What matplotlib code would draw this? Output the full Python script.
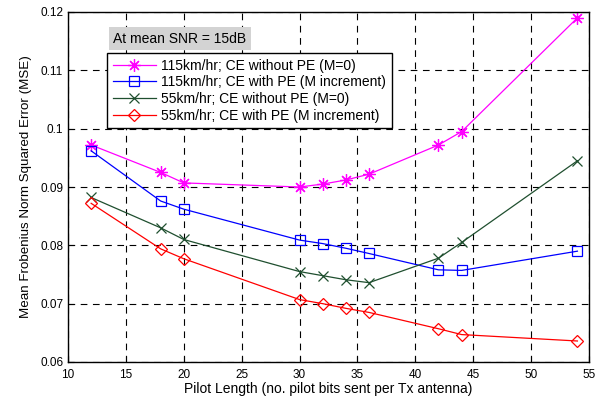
import numpy as np
import matplotlib.pyplot as plt

plt.rcParams['font.family'] = ['Liberation Sans', 'DejaVu Sans']

pilot = [12, 18, 20, 30, 32, 34, 36, 42, 44, 54]
mse_115_nope = [0.0972, 0.0925, 0.0907, 0.0900, 0.0905, 0.0912, 0.0922, 0.0972, 0.0995, 0.1190]
mse_115_pe = [0.0962, 0.0876, 0.0862, 0.0809, 0.0803, 0.0795, 0.0786, 0.0758, 0.0757, 0.0790]
mse_55_nope = [0.0882, 0.0830, 0.0810, 0.0755, 0.0748, 0.0741, 0.0736, 0.0778, 0.0805, 0.0945]
mse_55_pe = [0.0872, 0.0794, 0.0777, 0.0707, 0.0700, 0.0692, 0.0685, 0.0657, 0.0647, 0.0636]
labels = ['115km/hr; CE without PE (M=0)',
          '115km/hr; CE with PE (M increment)',
          '55km/hr; CE without PE (M=0)',
          '55km/hr; CE with PE (M increment)']

fig = plt.figure(figsize=(6.05, 3.98), dpi=100)
ax = fig.add_axes([68/605, 1-362/398, 521/605, 350/398])

lw = 0.9
ax.plot(pilot, mse_115_nope, color='#ff00ff', marker=(8, 2, 0), ms=9, mew=0.9, lw=lw, label=labels[0])
ax.plot(pilot, mse_115_pe, color='#0000ff', marker='s', ms=7, mfc='none', mew=0.9, lw=lw, label=labels[1])
ax.plot(pilot, mse_55_nope, color='#1f4f2f', marker='x', ms=7, mew=0.9, lw=lw, label=labels[2])
ax.plot(pilot, mse_55_pe, color='#ff0000', marker='D', ms=6, mfc='none', mew=0.9, lw=lw, label=labels[3])

ax.set_xlim(10, 55)
ax.set_ylim(0.06, 0.12)
ax.set_xticks(np.arange(10, 56, 5))
ax.set_yticks([0.06, 0.07, 0.08, 0.09, 0.1, 0.11, 0.12])
ax.set_yticklabels(['0.06', '0.07', '0.08', '0.09', '0.1', '0.11', '0.12'])
ax.grid(True, color='black', linestyle=(0, (6, 5)), linewidth=0.8)
ax.tick_params(direction='in', labelsize=8.5, length=4)
ax.tick_params(axis='x', pad=5)
for s in ax.spines.values():
    s.set_linewidth(1.0)

ax.set_xlabel('Pilot Length (no. pilot bits sent per Tx antenna)', fontsize=10, labelpad=1)
ax.set_ylabel('Mean Frobenius Norm Squared Error (MSE)', fontsize=9.6, labelpad=6)

leg = ax.legend(loc='upper left', bbox_to_anchor=(39/521, 1-41/350), fontsize=10,
                fancybox=False, edgecolor='black', framealpha=1, borderpad=0.4,
                labelspacing=0.2, handlelength=3.1, handletextpad=0.4, borderaxespad=0)
leg.get_frame().set_linewidth(1.0)

ax.text(0.087, 0.924, 'At mean SNR = 15dB', transform=ax.transAxes, fontsize=10,
        va='center', ha='left',
        bbox=dict(facecolor='#d3d3d3', edgecolor='none', pad=3))

fig.savefig('out.png', dpi=100)
